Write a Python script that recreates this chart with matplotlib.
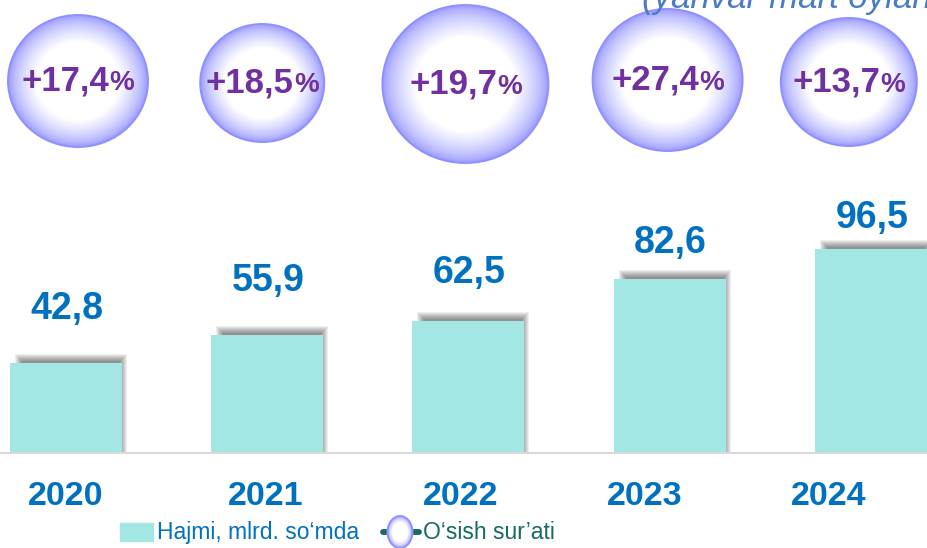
import matplotlib
matplotlib.use("Agg")
import matplotlib.pyplot as plt
from matplotlib.patches import Ellipse, Rectangle
from matplotlib.lines import Line2D
from matplotlib.transforms import IdentityTransform, ScaledTranslation
from matplotlib.offsetbox import TextArea, HPacker, AnnotationBbox

# data
years = ["2020", "2021", "2022", "2023", "2024"]
volume = [42.8, 55.9, 62.5, 82.6, 96.5]
growth = ["+17,4", "+18,5", "+19,7", "+27,4", "+13,7"]
legend_labels = ["Hajmi, mlrd. so‘mda", "O‘sish sur’ati"]
note = "(yanvar-mart oylari)"

# style / layout (pixels)
W, H = 928, 548
BASE = 95            # baseline height from bottom
STEP = 201.2         # px per category
YSCALE = 2.11        # px per unit
BAR_C = "#A2E7E3"
BLUE = "#0070C0"
PURPLE = "#7030A0"
TEAL = "#156B62"
label_gap = [44, 44, 38, 26, 21]
year_dx = [0, -2, -8, -25, -42]
bub_dx = [12, -5, -3, -2, -22]
bub_cy = [81, 83, 84, 80, 82]
bub_r = [(70, 66), (62, 59), (83, 79), (75, 71), (68, 64)]

plt.rcParams['font.family'] = ['Liberation Sans', 'DejaVu Sans']

fig = plt.figure(figsize=(W / 100, H / 100), dpi=100)
ax = fig.add_axes([0, BASE / H, 1, (H - BASE) / H])
ax.set_xlim(-66 / STEP, (W - 66) / STEP)
ax.set_ylim(0, (H - BASE) / YSCALE)
ax.axis('off')


def bubble(tr, rx, ry, target):
    n = 26
    for k in range(n):
        t = k / (n - 1)
        f = 1 - 0.4 * t
        c = 0.6 + 0.4 * t ** 0.7
        target.add_patch(Ellipse((0, 0), 2 * rx * f, 2 * ry * f, transform=tr,
                                 facecolor=(c, c, 1.0), edgecolor='none', clip_on=False,
                                 zorder=3))
    target.add_patch(Ellipse((0, 0), 2 * rx, 2 * ry, transform=tr, facecolor='none',
                             edgecolor='#9090FF', lw=1.4, clip_on=False, zorder=3))


x = list(range(len(years)))
# soft shadow behind the bars (offset right/up, blurred by stacking)
for s in range(8):
    ax.bar([i + 5 / STEP for i in x], [v + (2 + s) / YSCALE for v in volume],
           width=(112 - 14 + 2 * s) / STEP, color='k', alpha=0.065, lw=0, zorder=1)
ax.bar(x, volume, width=112 / STEP, color=BAR_C, zorder=2)

ax.axhline(0, color='#D9D9D9', lw=1.5, clip_on=False, zorder=3)

for i, v in enumerate(volume):
    ax.annotate(f"{v:.1f}".replace('.', ','), (i, v), xytext=(1, label_gap[i]),
                textcoords='offset pixels', ha='center', va='baseline',
                fontsize=27, fontweight='bold', color=BLUE)
    ax.annotate(years[i], (i, 0), xytext=(year_dx[i], -52), textcoords='offset pixels',
                ha='center', va='baseline', fontsize=24.5, fontweight='bold', color=BLUE)

# growth bubbles
for i, g in enumerate(growth):
    xd = i + bub_dx[i] / STEP
    yd = (H - BASE - bub_cy[i]) / YSCALE
    tr = IdentityTransform() + ScaledTranslation(xd, yd, ax.transData)
    bubble(tr, bub_r[i][0], bub_r[i][1], ax)
    box = HPacker(children=[
        TextArea(g, textprops=dict(fontsize=25, fontweight='bold', color=PURPLE)),
        TextArea("%", textprops=dict(fontsize=20, fontweight='bold', color=PURPLE))],
        align='baseline', pad=0, sep=0)
    ab = AnnotationBbox(box, (xd, yd), xybox=(0, 0), boxcoords='offset pixels',
                        box_alignment=(0.5, 0.5), frameon=False, zorder=5)
    ax.add_artist(ab)

# note at top (cut off in the original)
fig.text(642, H - 8, note, transform=IdentityTransform(), ha='left', va='baseline',
         fontsize=25, style='italic', color='#4A7CC6')

# legend
ident = IdentityTransform()
lax = fig.add_axes([0, 0, 1, 1], facecolor='none')
lax.axis('off')
lax.add_patch(Rectangle((120, H - 541), 33, 18, transform=ident, color=BAR_C, clip_on=False))
lax.add_line(Line2D([383, 419], [H - 532, H - 532], transform=ident, color=TEAL,
                    lw=4.2, solid_capstyle='round', clip_on=False, zorder=2))
bubble(IdentityTransform() + ScaledTranslation(400, H - 532, ident), 12.5, 16, lax)
fig.text(157, H - 539, legend_labels[0], transform=ident, va='baseline', fontsize=16.5,
         color=BLUE)
fig.text(423, H - 539, legend_labels[1], transform=ident, va='baseline', fontsize=16.5,
         color=TEAL)

fig.savefig("out.png", dpi=100)
